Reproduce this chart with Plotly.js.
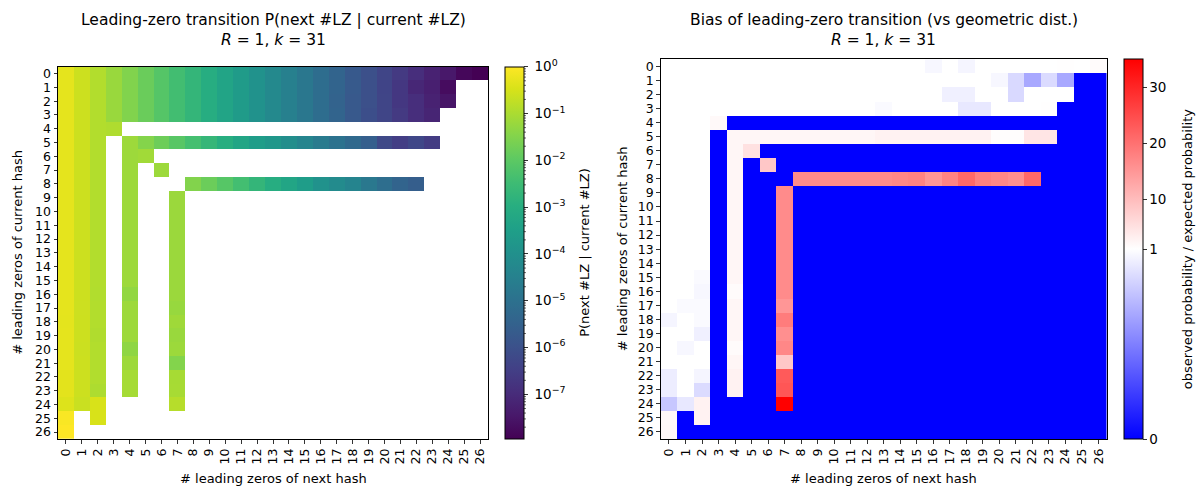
<!DOCTYPE html>
<html>
<head>
<meta charset="utf-8">
<script src="https://cdn.plot.ly/plotly-3.0.1.min.js"></script>
<style>html,body{margin:0;padding:0;background:#fff}</style>
</head>
<body>
<div id="chart" style="width:1199px;height:488px"></div>
<script>
// Number of leading zeros (0..26) of the current hash (rows) and of the next hash (columns)
const leadingZeros = [0,1,2,3,4,5,6,7,8,9,10,11,12,13,14,15,16,17,18,19,20,21,22,23,24,25,26];

// Geometric expectation for each column: P(#LZ = j) = 2^-(j+1)
const expectedP = [
  0.5, 0.25, 0.125, 0.0625, 0.03125, 0.015625, 0.0078125, 0.00390625, 0.001953125,
  9.765625e-4, 4.8828125e-4, 2.44140625e-4, 1.220703125e-4, 6.103515625e-5,
  3.0517578125e-5, 1.52587890625e-5, 7.62939453125e-6, 3.814697265625e-6,
  1.9073486328125e-6, 9.5367431640625e-7, 4.76837158203125e-7, 2.384185791015625e-7,
  1.1920928955078125e-7, 5.9604644775390625e-8, 2.98023223876953125e-8,
  1.490116119384765625e-8, 7.450580596923828125e-9
];

// observed / expected probability, one array per current #LZ (0 = never observed)
const ratio00 = [1,1,1,1,1,1,1,1,1,1,1,1,1,1,1,1,0.97,1,0.96,1,1,1,1,1,1.2,1,1.5];
const ratio01 = [1,1,1,1,1,1,1,1,1,1,1,1,1,1,1,1,1,1,1,1,0.97,0.85,0.66,0.86,0.66,0,0];
const ratio02 = [1,1,1,1,1,1,1,1,1,1,1,1,1,1,1,1,1,0.94,0.94,1,1,0.85,1,1,1,0,0];
const ratio03 = [1,1,1,1,1,1,1,1,1,1,1,1,1,0.98,1,1,1,1,0.91,0.91,1,1,1,1.2,0,0,0];
const ratio04 = [1,1,1,1.8,0,0,0,0,0,0,0,0,0,0,0,0,0,0,0,0,0,0,0,0,0,0,0];
const ratio05 = [1,1,1,0,2.2,2.2,2.2,2.2,2.2,2.2,2.2,2.2,2.2,2.8,2.8,2.8,2.8,2.8,2.8,2.8,1.3,1.3,4.5,4.5,0,0,0];
const ratio06 = [1,1,1,0,2.2,5.0,0,0,0,0,0,0,0,0,0,0,0,0,0,0,0,0,0,0,0,0,0];
const ratio07 = [1,1,1,0,2.2,0,8.5,0,0,0,0,0,0,0,0,0,0,0,0,0,0,0,0,0,0,0,0];
const ratio08 = [1,1,1,0,2.2,0,0,0,16.5,16.5,16.5,16.5,16.5,16.5,17,17.5,15,17.5,21,18,17,16,21,0,0,0,0];
const ratio09 = [1,1,1,0,2.2,0,0,16.5,0,0,0,0,0,0,0,0,0,0,0,0,0,0,0,0,0,0,0];
const ratio10 = [1,1,1,0,2.2,0,0,16.5,0,0,0,0,0,0,0,0,0,0,0,0,0,0,0,0,0,0,0];
const ratio11 = [1,1,1,0,2.2,0,0,16.5,0,0,0,0,0,0,0,0,0,0,0,0,0,0,0,0,0,0,0];
const ratio12 = [1,1,1,0,2.2,0,0,16.5,0,0,0,0,0,0,0,0,0,0,0,0,0,0,0,0,0,0,0];
const ratio13 = [1,1,1,0,2.2,0,0,16.5,0,0,0,0,0,0,0,0,0,0,0,0,0,0,0,0,0,0,0];
const ratio14 = [1,1,1,0,2.2,0,0,16.5,0,0,0,0,0,0,0,0,0,0,0,0,0,0,0,0,0,0,0];
const ratio15 = [1,1,0.98,0,2.2,0,0,16.5,0,0,0,0,0,0,0,0,0,0,0,0,0,0,0,0,0,0,0];
const ratio16 = [1,1,0.97,0,1.6,0,0,16.5,0,0,0,0,0,0,0,0,0,0,0,0,0,0,0,0,0,0,0];
const ratio17 = [1,0.98,0.98,0,2.2,0,0,15,0,0,0,0,0,0,0,0,0,0,0,0,0,0,0,0,0,0,0];
const ratio18 = [0.96,1,0.98,0,2.2,0,0,18.5,0,0,0,0,0,0,0,0,0,0,0,0,0,0,0,0,0,0,0];
const ratio19 = [1,1,0.94,0,2.2,0,0,16,0,0,0,0,0,0,0,0,0,0,0,0,0,0,0,0,0,0,0];
const ratio20 = [1,0.97,1,0,1.5,0,0,17,0,0,0,0,0,0,0,0,0,0,0,0,0,0,0,0,0,0,0];
const ratio21 = [1,1,1,0,2.2,0,0,8.5,0,0,0,0,0,0,0,0,0,0,0,0,0,0,0,0,0,0,0];
const ratio22 = [0.93,1,0.96,0,2.8,0,0,23,0,0,0,0,0,0,0,0,0,0,0,0,0,0,0,0,0,0,0];
const ratio23 = [0.93,1,0.86,0,2.8,0,0,23.5,0,0,0,0,0,0,0,0,0,0,0,0,0,0,0,0,0,0,0];
const ratio24 = [0.78,0.91,2.7,0,0,0,0,35,0,0,0,0,0,0,0,0,0,0,0,0,0,0,0,0,0,0,0];
const ratio25 = [1.8,0,2.7,0,0,0,0,0,0,0,0,0,0,0,0,0,0,0,0,0,0,0,0,0,0,0,0];
const ratio26 = [2.0,0,0,0,0,0,0,0,0,0,0,0,0,0,0,0,0,0,0,0,0,0,0,0,0,0,0];

const ratioRows = [ratio00,ratio01,ratio02,ratio03,ratio04,ratio05,ratio06,ratio07,ratio08,
  ratio09,ratio10,ratio11,ratio12,ratio13,ratio14,ratio15,ratio16,ratio17,ratio18,ratio19,
  ratio20,ratio21,ratio22,ratio23,ratio24,ratio25,ratio26];

const decadeTicks = [0,-1,-2,-3,-4,-5,-6,-7];
const ratioTicks = [0,1,10,20,30];

// ---- derived matrices ----
// transition probability = ratio * geometric expectation (blank where never observed)
const logP = ratioRows.map(row => row.map((r, j) => r > 0 ? Math.log10(r * expectedP[j]) : null));
let zmin = Infinity, zmax = -Infinity;
logP.forEach(row => row.forEach(v => { if (v !== null) { zmin = Math.min(zmin, v); zmax = Math.max(zmax, v); } }));

// two-slope normalisation centred on 1 (0 -> 0, 1 -> 0.5, max -> 1)
let rmax = 0;
ratioRows.forEach(row => row.forEach(v => { rmax = Math.max(rmax, v); }));
const twoSlope = v => v <= 1 ? 0.5 * v : 0.5 + 0.5 * (v - 1) / (rmax - 1);
const ratioNorm = ratioRows.map(row => row.map(twoSlope));

// ---- geometry (pixels) ----
const W = 1199, H = 488;
const px = x => x / W, py = y => 1 - y / H;
const L = {x0: 58, x1: 488, y0: 66.7, y1: 439};
const R = {x0: 660.7, x1: 1106.7, y0: 59.3, y1: 439};
const cbL = {x: 505, w: 19, y0: 66.7, y1: 439};
const cbR = {x: 1124, w: 19, y0: 59.3, y1: 439};

const FONT = 'DejaVu Sans, Verdana, sans-serif';
const tickFont = {family: FONT, size: 12.5, color: '#000'};
const cbTickFont = {family: FONT, size: 13.5, color: '#000'};
const labelFont = {family: FONT, size: 13, color: '#000'};
const titleFont = {family: FONT, size: 15.5, color: '#000'};

const tickLabels = leadingZeros.map(String);
function axisBase(extra) {
  return Object.assign({
    tickmode: 'array', tickvals: leadingZeros, ticktext: tickLabels,
    ticks: 'outside', ticklen: 3.5, tickwidth: 0.8, tickcolor: '#000',
    showline: true, mirror: true, linecolor: '#000', linewidth: 1,
    showgrid: false, zeroline: false, tickfont: tickFont, fixedrange: true,
    automargin: false
  }, extra);
}

const traces = [
  {
    type: 'heatmap', x: leadingZeros, y: leadingZeros, z: logP,
    xaxis: 'x', yaxis: 'y', zmin: zmin, zmax: zmax,
    colorscale: 'Viridis', hoverongaps: false, xgap: 0, ygap: 0,
    colorbar: {
      x: px(cbL.x), xanchor: 'left', xpad: 0, ypad: 0,
      y: py(cbL.y0), yanchor: 'top', lenmode: 'pixels', len: cbL.y1 - cbL.y0,
      thicknessmode: 'pixels', thickness: cbL.w,
      outlinecolor: '#000', outlinewidth: 1,
      tickmode: 'array', tickvals: decadeTicks,
      ticktext: decadeTicks.map(d => ' 10<sup>' + (d < 0 ? '\u2212' + (-d) : d) + '</sup>'),
      ticks: 'outside', ticklen: 3.5, tickwidth: 0.8, tickcolor: '#000',
      tickfont: cbTickFont
    }
  },
  {
    type: 'heatmap', x: leadingZeros, y: leadingZeros, z: ratioNorm,
    customdata: ratioRows, hovertemplate: '%{customdata}<extra></extra>',
    xaxis: 'x2', yaxis: 'y2', zmin: 0, zmax: 1,
    colorscale: [[0, 'rgb(0,0,255)'], [0.5, 'rgb(255,255,255)'], [1, 'rgb(255,0,0)']],
    colorbar: {
      x: px(cbR.x), xanchor: 'left', xpad: 0, ypad: 0,
      y: py(cbR.y0), yanchor: 'top', lenmode: 'pixels', len: cbR.y1 - cbR.y0,
      thicknessmode: 'pixels', thickness: cbR.w,
      outlinecolor: '#000', outlinewidth: 1,
      tickmode: 'array', tickvals: ratioTicks.map(twoSlope), ticktext: ratioTicks.map(String),
      ticks: 'outside', ticklen: 3.5, tickwidth: 0.8, tickcolor: '#000',
      tickfont: cbTickFont
    }
  }
];

// minor ticks of the logarithmic colour bar
const shapes = [];
const barRight = cbL.x + cbL.w;
for (let k = -9; k <= 0; k++) {
  for (let m = 2; m <= 9; m++) {
    const v = k + Math.log10(m);
    if (v < zmin || v > zmax) continue;
    const y = cbL.y0 + (zmax - v) / (zmax - zmin) * (cbL.y1 - cbL.y0);
    shapes.push({type: 'line', xref: 'paper', yref: 'paper',
      x0: px(barRight), x1: px(barRight + 2), y0: py(y), y1: py(y),
      line: {color: '#000', width: 0.6}});
  }
}

const ann = (x, y, text, font, extra) => Object.assign({
  xref: 'paper', yref: 'paper', x: px(x), y: py(y), text: text, font: font,
  showarrow: false, xanchor: 'center', yanchor: 'middle'
}, extra || {});

const annotations = [
  ann((L.x0 + L.x1) / 2, 20, 'Leading-zero transition P(next #LZ | current #LZ)', titleFont),
  ann((L.x0 + L.x1) / 2, 40, '<i>R</i> = 1, <i>k</i> = 31', titleFont),
  ann((R.x0 + R.x1) / 2, 20, 'Bias of leading-zero transition (vs geometric dist.)', titleFont),
  ann((R.x0 + R.x1) / 2, 40, '<i>R</i> = 1, <i>k</i> = 31', titleFont),
  ann((L.x0 + L.x1) / 2, 478, '# leading zeros of next hash', labelFont),
  ann((R.x0 + R.x1) / 2, 478, '# leading zeros of next hash', labelFont),
  ann(18, (L.y0 + L.y1) / 2, '# leading zeros of current hash', labelFont, {textangle: -90}),
  ann(622, (R.y0 + R.y1) / 2, '# leading zeros of current hash', labelFont, {textangle: -90}),
  ann(585, (cbL.y0 + cbL.y1) / 2, 'P(next #LZ | current #LZ)', labelFont, {textangle: -90}),
  ann(1187, (cbR.y0 + cbR.y1) / 2, 'observed probability / expected probability', labelFont, {textangle: -90})
];

const layout = {
  width: W, height: H,
  margin: {l: 0, r: 0, t: 0, b: 0, pad: 0},
  paper_bgcolor: '#fff', plot_bgcolor: '#fff',
  showlegend: false,
  font: {family: FONT, color: '#000'},
  xaxis: axisBase({domain: [px(L.x0), px(L.x1)], anchor: 'y', range: [-0.5, 26.5], tickangle: -90}),
  yaxis: axisBase({domain: [py(L.y1), py(L.y0)], anchor: 'x', range: [26.5, -0.5]}),
  xaxis2: axisBase({domain: [px(R.x0), px(R.x1)], anchor: 'y2', range: [-0.5, 26.5], tickangle: -90}),
  yaxis2: axisBase({domain: [py(R.y1), py(R.y0)], anchor: 'x2', range: [26.5, -0.5]}),
  shapes: shapes,
  annotations: annotations
};

Plotly.newPlot('chart', traces, layout, {displayModeBar: false, staticPlot: true});
</script>
</body>
</html>
